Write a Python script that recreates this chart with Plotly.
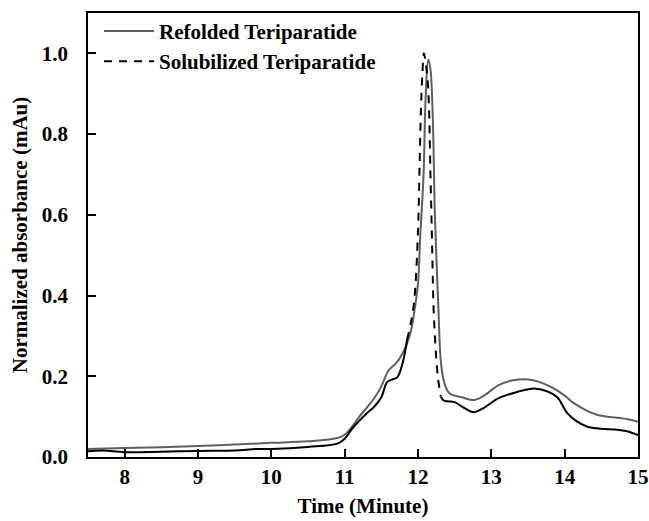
import numpy as np
import plotly.graph_objects as go

# Refolded Teriparatide (grey, solid)
ref_t = [7.5, 8.0, 8.5, 9.0, 9.5, 10.0, 10.5, 10.9, 11.0, 11.1, 11.2, 11.3, 11.4, 11.5, 11.6,
         11.7, 11.8, 11.9, 11.95, 12.0, 12.03, 12.06, 12.08, 12.1, 12.14, 12.17, 12.2, 12.23,
         12.26, 12.28, 12.31, 12.35, 12.4, 12.45, 12.6, 12.76, 12.9, 13.1, 13.3, 13.5, 13.65,
         13.85, 14.0, 14.12, 14.3, 14.45, 14.72, 14.85, 15.0]
ref_v = [0.02, 0.022, 0.024, 0.027, 0.031, 0.035, 0.039, 0.047, 0.055, 0.075, 0.1, 0.122, 0.145,
         0.175, 0.215, 0.232, 0.26, 0.31, 0.36, 0.43, 0.545, 0.64, 0.72, 0.87, 0.985, 0.96, 0.85,
         0.6, 0.45, 0.36, 0.24, 0.19, 0.165, 0.155, 0.148, 0.141, 0.152, 0.178, 0.19, 0.192,
         0.186, 0.17, 0.152, 0.134, 0.115, 0.104, 0.097, 0.094, 0.087]

# Solubilized Teriparatide (black, dashed)
sol_t = [7.5, 7.7, 8.0, 8.5, 9.0, 9.5, 9.8, 10.0, 10.5, 10.9, 11.0, 11.1, 11.2, 11.3, 11.4, 11.5,
         11.58, 11.65, 11.72, 11.8, 11.85, 11.9, 11.95, 12.0, 12.02, 12.04, 12.06, 12.08, 12.11,
         12.14, 12.17, 12.2, 12.21, 12.24, 12.27, 12.31, 12.35, 12.4, 12.5, 12.6, 12.76, 12.9,
         13.1, 13.35, 13.58, 13.76, 13.9, 14.03, 14.15, 14.31, 14.5, 14.7, 14.85, 15.0]
sol_v = [0.014, 0.016, 0.012, 0.013, 0.015, 0.016, 0.02, 0.02, 0.025, 0.033, 0.045, 0.07, 0.09,
         0.108, 0.124, 0.148, 0.186, 0.192, 0.198, 0.24, 0.29, 0.33, 0.39, 0.56, 0.71, 0.86,
         0.95, 1.0, 0.97, 0.91, 0.7, 0.46, 0.38, 0.27, 0.2, 0.15, 0.14, 0.138, 0.136, 0.125,
         0.111, 0.122, 0.146, 0.161, 0.17, 0.163, 0.148, 0.11, 0.09, 0.075, 0.07, 0.068, 0.064,
         0.054]

x_ticks = [8, 9, 10, 11, 12, 13, 14, 15]
y_ticks = [0.0, 0.2, 0.4, 0.6, 0.8, 1.0]

st = np.array(sol_t)
sv = np.array(sol_v, dtype=float)
dash_mask = (st >= 11.85) & (st <= 12.31)
solid_mask = (st <= 11.85) | (st >= 12.31)
sv_solid = np.where(solid_mask, sv, np.nan)

FONT = "Liberation Serif"
FS = 21

fig = go.Figure()
fig.add_trace(go.Scatter(x=ref_t, y=ref_v, mode="lines", name="<b>Refolded Teriparatide</b>",
                         line=dict(color="#5f5f5f", width=2), line_shape="spline"))
fig.add_trace(go.Scatter(x=st, y=sv_solid, mode="lines", showlegend=False,
                         line=dict(color="#000000", width=2), line_shape="spline"))
fig.add_trace(go.Scatter(x=st[dash_mask], y=sv[dash_mask], mode="lines",
                         name="<b>Solubilized Teriparatide</b>",
                         line=dict(color="#000000", width=2, dash="8px,7px"), line_shape="spline"))

axis_common = dict(showline=True, linecolor="black", linewidth=1.5, mirror=True,
                   ticks="inside", ticklen=8, tickwidth=1.5, tickcolor="black",
                   showgrid=False, zeroline=False, automargin=False,
                   tickfont=dict(family=FONT, size=FS, color="black"))

fig.update_xaxes(range=[7.5, 15], tickvals=x_ticks,
                 ticktext=[f"<b>{v}</b>" for v in x_ticks],
                 ticklabelstandoff=0,
                 title=dict(text="<b>Time (Minute)</b>", font=dict(family=FONT, size=FS, color="black"),
                            standoff=10),
                 **axis_common)
fig.update_yaxes(range=[0, 1.1], tickvals=y_ticks,
                 ticktext=[f"<b>{v:.1f}</b>" for v in y_ticks],
                 ticklabelstandoff=14,
                 title=dict(text="<b>Normalized absorbance (mAu)</b>",
                            font=dict(family=FONT, size=FS, color="black"), standoff=8),
                 **axis_common)

fig.update_layout(
    width=649, height=521,
    margin=dict(l=88, r=11, t=13, b=64),
    plot_bgcolor="white", paper_bgcolor="white",
    legend=dict(x=0.02, y=1.005, xanchor="left", yanchor="top",
                font=dict(family=FONT, size=FS, color="black"),
                bgcolor="rgba(0,0,0,0)", itemwidth=50, tracegroupgap=0),
)

fig.write_html("out.html")
